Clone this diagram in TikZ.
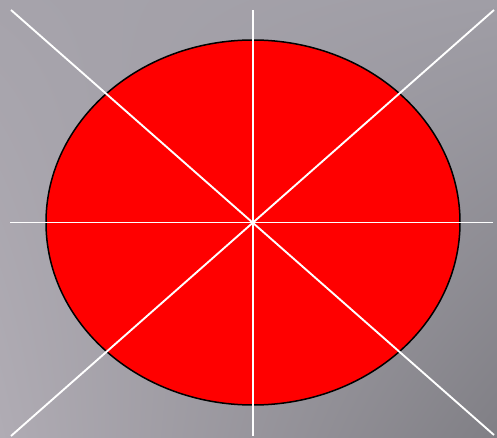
\documentclass[tikz,border=0pt]{standalone}
\usetikzlibrary{shadings,shapes.geometric}
\definecolor{bgUL}{RGB}{166,163,171}
\definecolor{bgUR}{RGB}{160,158,166}
\definecolor{bgLL}{RGB}{176,172,180}
\definecolor{bgLR}{RGB}{128,127,133}
\tikzset{
  spoke/.style={draw=white, line width=1.9pt},
  disc/.style={draw=black, fill=red, line width=1.5pt}
}
\begin{document}
\begin{tikzpicture}[x=1pt,y=-1pt]
\useasboundingbox (0,0) rectangle (497,438);
\shade[upper left=bgUL, upper right=bgUR, lower left=bgLL, lower right=bgLR] (0,0) rectangle (497,438);
\coordinate (c) at (253,222.5);
\node[disc, ellipse, minimum width=414pt, minimum height=365pt, inner sep=0pt] (e) at (c) {};
\coordinate (tl) at (11,10);
\coordinate (br) at (494,435);
\coordinate (tr) at (494,10);
\coordinate (bl) at (11,436);
\coordinate (t) at (253,10);
\coordinate (b) at (253,436);
\coordinate (l) at (10,222.5);
\coordinate (r) at (493,222.5);
\draw[spoke] (tl) -- (br);
\draw[spoke] (tr) -- (bl);
\draw[spoke] (t) -- (b);
\draw[spoke] (l) -- (r);
\end{tikzpicture}
\end{document}
